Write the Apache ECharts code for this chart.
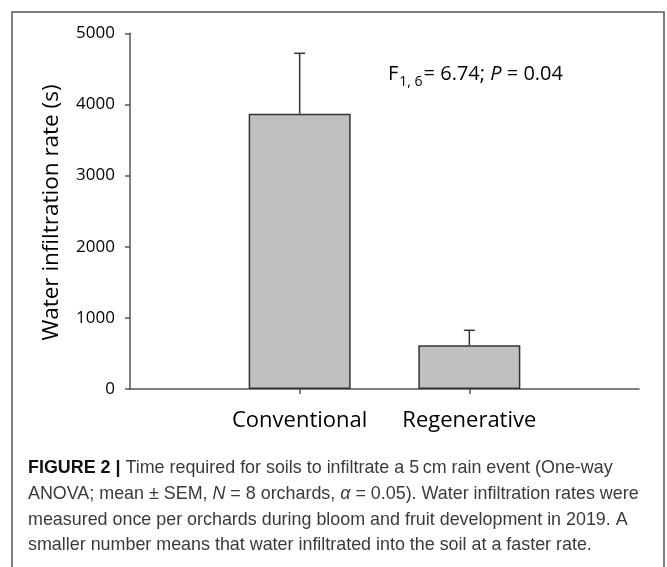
<!DOCTYPE html>
<html>
<head>
<meta charset="utf-8">
<script src="https://cdn.jsdelivr.net/npm/echarts@6/dist/echarts.min.js"></script>
<style>
html,body{margin:0;padding:0;background:#fff;}
#chart{width:667px;height:567px;}
</style>
</head>
<body>
<div id="chart"></div>
<script>
// ---- data ----
const categories = ['Conventional', 'Regenerative'];
const means = [3870, 614];
const errorTops = [4719, 825];
const yMin = 0, yMax = 5000, yInterval = 1000;
const yAxisTitle = 'Water infiltration rate (s)';
const captionLines = [
  '{b|FIGURE 2 |} Time required for soils to infiltrate a 5\u2009cm rain event (One-way',
  'ANOVA; mean \u00b1 SEM, {i|N} = 8 orchards, {i|\u03b1} = 0.05). Water infiltration rates were',
  'measured once per orchards during bloom and fruit development in 2019. A',
  'smaller number means that water infiltrated into the soil at a faster rate.'
];

const chartFont = '"Open Sans", "Noto Sans", sans-serif';
const capFont = '"Liberation Sans", Arial, sans-serif';
const capSize = 17.9;

const xData = [''].concat(categories).concat(['']);
const barData = ['-'].concat(means).concat(['-']);
const errData = categories.map((c, i) => [i + 1, means[i], errorTops[i]]);

const chart = echarts.init(document.getElementById('chart'), null, {renderer: 'canvas'});

const graphics = [
  {type: 'rect', shape: {x: 12, y: 12, width: 652, height: 600}, style: {fill: 'none', stroke: '#555', lineWidth: 1.5}, silent: true},
  {type: 'text', x: 52, y: 212.5, rotation: Math.PI / 2,
   style: {text: yAxisTitle, font: '22.5px ' + chartFont, fill: '#000', align: 'center', verticalAlign: 'middle'}},
  {type: 'text', x: 388, y: 74,
   style: {
     text: 'F{sub|1, 6}= 6.74; {it|P} = 0.04',
     font: '20px ' + chartFont, fill: '#000', align: 'left', verticalAlign: 'middle',
     rich: {
       sub: {fontSize: 14, fontFamily: chartFont, padding: [16, 1, 0, 1]},
       it: {fontStyle: 'italic', fontSize: 20, fontFamily: chartFont}
     }
   }}
];
captionLines.forEach((t, i) => {
  graphics.push({type: 'text', x: 28, y: 468 + i * 25.8,
    style: {text: t, font: capSize + 'px ' + capFont, fill: '#3a3a3a', align: 'left', verticalAlign: 'middle',
      rich: {
        b: {fontWeight: 'bold', fontSize: capSize, fontFamily: capFont, fill: '#111'},
        i: {fontStyle: 'italic', fontSize: capSize, fontFamily: capFont, fill: '#3a3a3a'}
      }}});
});

chart.setOption({
  animation: false,
  backgroundColor: '#fff',
  grid: {left: 130, right: 28, top: 33.3, bottom: 178, containLabel: false},
  xAxis: {
    type: 'category', data: xData, boundaryGap: false,
    axisLine: {lineStyle: {color: '#555', width: 1.5}},
    axisTick: {show: true, length: 5, interval: function (i) { return i === 1 || i === 2; }, lineStyle: {color: '#555', width: 1.5}},
    axisLabel: {interval: 0, color: '#000', fontSize: 22, fontFamily: chartFont, margin: 21},
    splitLine: {show: false}
  },
  yAxis: {
    type: 'value', min: yMin, max: yMax, interval: yInterval,
    axisLine: {show: true, lineStyle: {color: '#555', width: 1.5}},
    axisTick: {show: true, length: 5, lineStyle: {color: '#555', width: 1.5}},
    axisLabel: {color: '#000', fontSize: 17, fontFamily: chartFont, margin: 15, formatter: function (v) { return String(v); }},
    splitLine: {show: false}
  },
  series: [
    {type: 'bar', data: barData, barWidth: 102,
     itemStyle: {color: '#c0c0c0', borderColor: '#333', borderWidth: 1.5}},
    {type: 'custom', data: errData, z: 5,
     renderItem: function (params, api) {
       const x = api.value(0);
       const p0 = api.coord([x, api.value(1)]);
       const p1 = api.coord([x, api.value(2)]);
       const cap = 5.5;
       return {type: 'group', children: [
         {type: 'line', shape: {x1: p0[0], y1: p0[1], x2: p1[0], y2: p1[1]}, style: {stroke: '#333', lineWidth: 1.5}},
         {type: 'line', shape: {x1: p1[0] - cap, y1: p1[1], x2: p1[0] + cap, y2: p1[1]}, style: {stroke: '#333', lineWidth: 1.5}}
       ]};
     }}
  ],
  graphic: graphics
});
</script>
</body>
</html>
